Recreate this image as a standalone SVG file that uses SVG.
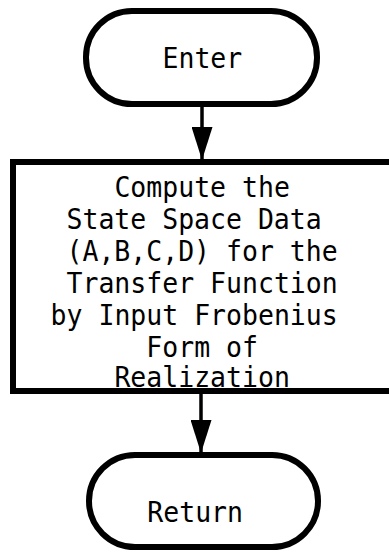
<svg xmlns="http://www.w3.org/2000/svg" width="389" height="552" viewBox="0 0 389 552">
  <style>
    .outline { fill: #fff; stroke: #000; stroke-width: 6; }
    .label { font-family: "DejaVu Sans Mono", "Liberation Mono", monospace; font-size: 28px; fill: #000; }
    .flow { stroke: #000; stroke-width: 3.5; fill: none; }
  </style>
  <defs>
    <marker id="arrowhead" markerUnits="userSpaceOnUse" markerWidth="33" markerHeight="21" viewBox="0 0 33 21" refX="33" refY="10.5" orient="auto">
      <path d="M0,0 L33,10.5 L0,21 z" fill="#000"/>
    </marker>
  </defs>
  <rect width="389" height="552" fill="#fff"/>

  <g id="connectors">
    <line class="flow" x1="202" y1="106" x2="202" y2="160" marker-end="url(#arrowhead)"/>
    <line class="flow" x1="201" y1="393" x2="201" y2="453" marker-end="url(#arrowhead)"/>
  </g>

  <!-- text is set on a 15.95px character grid, glyphs narrowed to fit -->
  <g id="enter">
    <rect class="outline" x="86" y="11" width="231" height="93" rx="46" ry="46"/>
    <text class="label" x="162.5" y="68" textLength="79.8" lengthAdjust="spacingAndGlyphs">Enter</text>
  </g>

  <g id="compute">
    <rect class="outline" x="13" y="162" width="390" height="229"/>
    <text class="label" x="114.4" y="196.5" textLength="175.5" lengthAdjust="spacingAndGlyphs">Compute the</text>
    <text class="label" x="66.5" y="229" textLength="255.2" lengthAdjust="spacingAndGlyphs">State Space Data</text>
    <text class="label" x="66.5" y="261" textLength="271.2" lengthAdjust="spacingAndGlyphs">(A,B,C,D) for the</text>
    <text class="label" x="66.5" y="293" textLength="271.2" lengthAdjust="spacingAndGlyphs">Transfer Function</text>
    <text class="label" x="50.6" y="325" textLength="287.1" lengthAdjust="spacingAndGlyphs">by Input Frobenius</text>
    <text class="label" x="146.3" y="356.5" textLength="111.7" lengthAdjust="spacingAndGlyphs">Form of</text>
    <text class="label" x="114.4" y="386.5" textLength="175.5" lengthAdjust="spacingAndGlyphs">Realization</text>
  </g>

  <g id="return">
    <rect class="outline" x="89" y="455" width="229" height="92" rx="46" ry="46"/>
    <text class="label" x="147.3" y="521.5" textLength="95.7" lengthAdjust="spacingAndGlyphs">Return</text>
  </g>
</svg>
